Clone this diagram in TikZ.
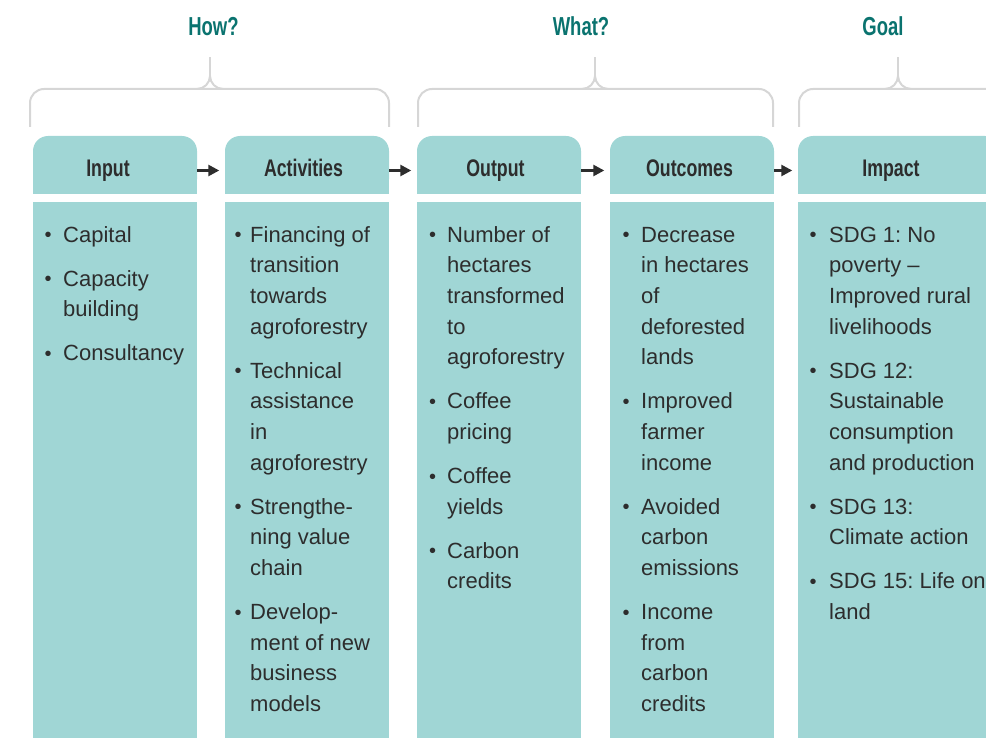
\documentclass[tikz,border=0pt]{standalone}
\usepackage{fontspec}
\setmainfont{Liberation Sans}
\newfontfamily\condfont{Liberation Sans}[FakeStretch=0.74]
\newfontfamily\titlefont{Liberation Sans}[FakeStretch=0.71]
\usetikzlibrary{arrows.meta}
\definecolor{boxc}{RGB}{160,214,213}
\definecolor{tealT}{RGB}{10,115,111}
\definecolor{ink}{RGB}{45,45,45}
\definecolor{bracec}{RGB}{214,214,214}
\frenchspacing
\newcommand\bul[1]{\llap{\raisebox{0.2pt}{\fontsize{20}{20}\selectfont\textbullet}\hspace{#1}}}
\begin{document}
\begin{tikzpicture}[x=1pt,y=-1pt,
  hdr/.style={fill=boxc, rounded corners=15pt, minimum width=164pt, minimum height=58pt, inner sep=0pt},
  body/.style={fill=boxc, minimum width=164pt, minimum height=560pt, inner sep=0pt, anchor=north west},
  hlab/.style={font=\condfont\bfseries\fontsize{24}{24}\selectfont, text=ink, anchor=base, inner sep=0pt},
  ttl/.style={font=\titlefont\bfseries\fontsize{26}{26}\selectfont, text=tealT, anchor=base, inner sep=0pt},
  items/.style={font=\frenchspacing\fontsize{22}{30.7}\selectfont, text=ink, align=left, anchor=north west, inner sep=0pt},
  arr/.style={draw=ink, line width=2.5pt, -{Triangle[length=11pt,width=11pt]}, shorten >=5.5pt},
  brace/.style={draw=bracec, line width=2pt}]
\useasboundingbox (0,0) rectangle (986,738);
\clip (0,0) rectangle (986,738);

% titles
\node[ttl] (tHow) at (213.5,36) {How?};
\node[ttl] (tWhat) at (581,36) {What?};
\node[ttl] (tGoal) at (883,36) {Goal};

% braces
\draw[brace, rounded corners=14pt] (30,127) -- (30,89) -- (389,89) -- (389,127);
\draw[brace] (197,89) .. controls (204,89) and (210,83) .. (210,76) .. controls (210,83) and (216,89) .. (223,89);
\draw[brace] (210,76) -- (210,57);
\draw[brace, rounded corners=14pt] (418,127) -- (418,89) -- (773,89) -- (773,127);
\draw[brace] (582,89) .. controls (589,89) and (595,83) .. (595,76) .. controls (595,83) and (601,89) .. (608,89);
\draw[brace] (595,76) -- (595,57);
\draw[brace, rounded corners=14pt] (799,127) -- (799,89) -- (1000,89);
\draw[brace] (885,89) .. controls (892,89) and (898,83) .. (898,76) .. controls (898,83) and (904,89) .. (911,89);
\draw[brace] (898,76) -- (898,57);

% header boxes
\node[hdr] (h1) at (115,165) {};
\node[hdr] (h2) at (307,165) {};
\node[hdr] (h3) at (499,165) {};
\node[hdr] (h4) at (692,165) {};
\node[hdr, minimum width=202pt] (h5) at (899,165) {};
\foreach \h in {h1,h2,h3,h4,h5}{\fill[boxc] (\h.west) rectangle (\h.south east);}

% header labels
\node[hlab] (l1) at (108,177) {Input};
\node[hlab] (l2) at (303.5,177) {Activities};
\node[hlab] (l3) at (495.5,177) {Output};
\node[hlab] (l4) at (689.5,177) {Outcomes};
\node[hlab] (l5) at (891,177) {Impact};

% arrows
\draw[arr] ([yshift=-5.5pt]h1.east) -- ([yshift=-5.5pt]h2.west);
\draw[arr] ([yshift=-5.5pt]h2.east) -- ([yshift=-5.5pt]h3.west);
\draw[arr] ([yshift=-5.5pt]h3.east) -- ([yshift=-5.5pt]h4.west);
\draw[arr] ([yshift=-5.5pt]h4.east) -- ([yshift=-5.5pt]h5.west);

% body boxes
\node[body] (b1) at (33,202) {};
\node[body] (b2) at (225,202) {};
\node[body] (b3) at (417,202) {};
\node[body] (b4) at (610,202) {};
\node[body, minimum width=202pt] (b5) at (798,202) {};

% body texts
\node[items] (i1) at (63,220.5) {\strut\bul{11.5pt}Capital\\[13.2pt]
\bul{11.5pt}Capacity\\building\\[13.2pt]
\bul{11.5pt}Consultancy};
\node[items] (i2) at (250,220.5) {\strut\bul{8.5pt}Financing of\\transition\\towards\\agroforestry\\[13.2pt]
\bul{8.5pt}Technical\\assistance\\in\\agroforestry\\[13.2pt]
\bul{8.5pt}Strengthe-\\ning value\\chain\\[13.2pt]
\bul{8.5pt}Develop-\\ment of new\\business\\models};
\node[items] (i3) at (447,220.5) {\strut\bul{11pt}Number of\\hectares\\transformed\\to\\agroforestry\\[13.2pt]
\bul{11pt}Coffee\\pricing\\[13.2pt]
\bul{11pt}Coffee\\yields\\[13.2pt]
\bul{11pt}Carbon\\credits};
\node[items] (i4) at (641,220.5) {\strut\bul{11.5pt}Decrease\\in hectares\\of\\deforested\\lands\\[13.2pt]
\bul{11.5pt}Improved\\farmer\\income\\[13.2pt]
\bul{11.5pt}Avoided\\carbon\\emissions\\[13.2pt]
\bul{11.5pt}Income\\from\\carbon\\credits};
\node[items] (i5) at (829,220.5) {\strut\bul{12.5pt}SDG 1: No\\poverty –\\Improved rural\\livelihoods\\[13.2pt]
\bul{12.5pt}SDG 12:\\Sustainable\\consumption\\and production\\[13.2pt]
\bul{12.5pt}SDG 13:\\Climate action\\[13.2pt]
\bul{12.5pt}SDG 15: Life on\\land};
\end{tikzpicture}
\end{document}
